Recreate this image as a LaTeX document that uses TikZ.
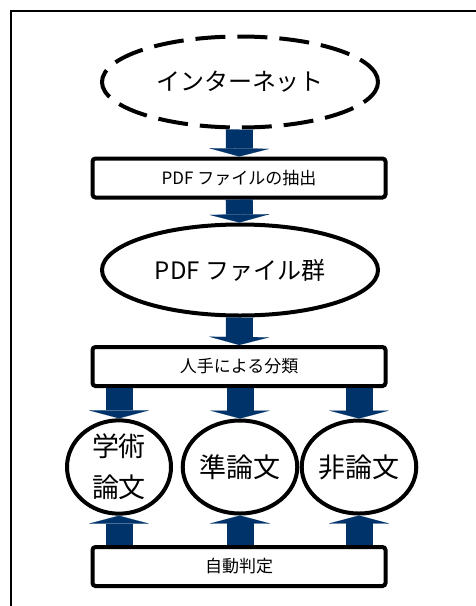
\documentclass[tikz,border=0pt]{standalone}
\usepackage{fontspec}
\setmainfont{Noto Sans CJK JP}
\definecolor{flowNavy}{HTML}{00336A}
\usetikzlibrary{arrows.meta,shapes.geometric}

\begin{document}
\begin{tikzpicture}[x=1pt, y=-1pt,
  procbox/.style={draw, line width=4pt, rounded corners=3pt, inner sep=0pt,
    minimum width=293pt, minimum height=39pt, font=\fontsize{17}{20}\selectfont},
  oval/.style={ellipse, draw, line width=4pt, inner sep=0pt,
    minimum width=276pt, minimum height=91pt, font=\fontsize{24}{28}\selectfont},
  kind/.style={ellipse, draw, line width=4pt, inner sep=0pt, align=center,
    minimum width=104pt, minimum height=93pt, font=\fontsize{27}{41}\selectfont},
  fatarr/.style={-{Triangle[width=60pt, length=8pt, line width=0.1pt]},
    line width=27pt, color=flowNavy}
]
  \useasboundingbox (0,0) rectangle (475,606);
  \draw[line width=1.5pt] (11,620) -- (11,11) -- (490,11);

  \node[oval, dash pattern=on 30pt off 12pt] (net) at (240,82) {インターネット};
  \node[procbox] (extract) at (239,178) {PDF ファイルの抽出};
  \node[oval] (pdfs) at (240,270) {PDF ファイル群};
  \node[procbox] (manual) at (239,366.5) {人手による分類};
  \node[kind] (paper) at (119,467) {学術\\論文};
  \node[kind] (semi) at (240,467) {準論文};
  \node[kind] (nonpaper) at (359,467) {非論文};
  \node[procbox] (auto) at (239,566.5) {自動判定};

  \draw[fatarr] (net) -- (extract);
  \draw[fatarr] (extract) -- (pdfs);
  \draw[fatarr] (pdfs) -- (manual);
  \foreach \k in {paper,semi,nonpaper} {
    \draw[fatarr] (\k |- manual.south) -- (\k.north);
    \draw[fatarr] (\k |- auto.north) -- (\k.south);
  }
\end{tikzpicture}
\end{document}
